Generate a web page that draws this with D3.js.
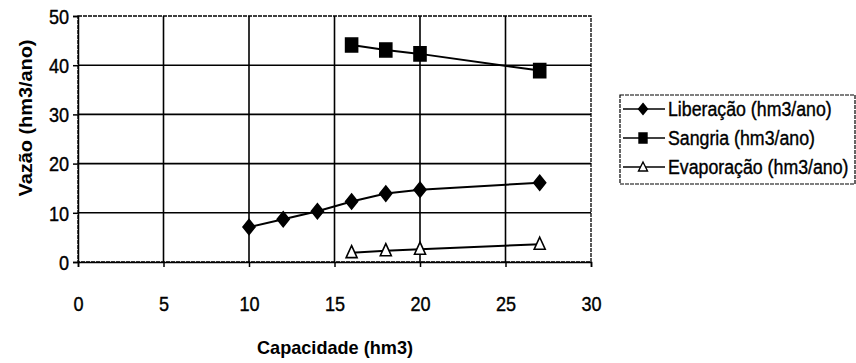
<!DOCTYPE html>
<html><head><meta charset="utf-8">
<script src="https://cdn.jsdelivr.net/npm/d3@7"></script>
<style>body{margin:0;background:#fff}svg{display:block}text{font-family:"Liberation Sans",Arial,sans-serif;fill:#000}</style>
</head><body><svg id="c" width="856" height="363"></svg>
<script>
const xTicks=[0,5,10,15,20,25,30];
const yTicks=[0,10,20,30,40,50];
const libX=[10,12,14,16,18,20,27];
const libY=[7.1,8.7,10.3,12.3,13.9,14.7,16.1];
const sanX=[16,18,20,27];
const sanY=[44.1,43.1,42.3,38.9];
const evaX=[16,18,20,27];
const evaY=[1.9,2.3,2.6,3.6];
const seriesNames=["Liberação (hm3/ano)","Sangria (hm3/ano)","Evaporação (hm3/ano)"];
const xTitle="Capacidade (hm3)";
const yTitle="Vazão (hm3/ano)";

const svg=d3.select("#c");
const L=78,R=591,T=16,B=262;
const x=d3.scaleLinear().domain([0,30]).range([L,R]);
const y=d3.scaleLinear().domain([0,50]).range([B,T]);

function condense(sel,f){sel.each(function(){const w=this.getComputedTextLength();
 d3.select(this).attr("textLength",w*f).attr("lengthAdjust","spacingAndGlyphs");});}

// grid
svg.append("g").selectAll("line").data(xTicks.slice(1,-1)).join("line")
 .attr("x1",d=>x(d)).attr("x2",d=>x(d)).attr("y1",T).attr("y2",B)
 .attr("stroke","#000").attr("stroke-width",1.6);
svg.append("g").selectAll("line").data(yTicks.slice(1,-1)).join("line")
 .attr("y1",d=>y(d)).attr("y2",d=>y(d)).attr("x1",L).attr("x2",R)
 .attr("stroke","#000").attr("stroke-width",1.6);
// border
svg.append("rect").attr("x",L).attr("y",T).attr("width",R-L).attr("height",B-T)
 .attr("fill","none").attr("stroke","#000").attr("stroke-width",1.3).attr("stroke-dasharray","4,1");

// axes
const xa=svg.append("g").attr("transform",`translate(0,${B})`)
 .call(d3.axisBottom(x).tickValues(xTicks).tickSize(5).tickPadding(29));
const ya=svg.append("g").attr("transform",`translate(${L},0)`)
 .call(d3.axisLeft(y).tickValues(yTicks).tickSize(5).tickPadding(4));
[xa,ya].forEach(a=>{a.select(".domain").attr("stroke","#000").attr("stroke-width",1.5);
 a.selectAll(".tick line").attr("stroke","#000").attr("stroke-width",1.5);
 a.selectAll("text").attr("font-size",21)
  .attr("font-family","Liberation Sans, Arial, sans-serif").attr("fill","#000")
  .attr("stroke","#000").attr("stroke-width",0.4);
 condense(a.selectAll("text"),0.86);});
ya.selectAll("text").attr("dy","0.35em");

// titles
svg.append("text").attr("x",335).attr("y",354).attr("text-anchor","middle")
 .attr("font-size",19).attr("font-weight","bold").attr("textLength",156).attr("lengthAdjust","spacingAndGlyphs").text(xTitle);
svg.append("text").attr("transform","translate(32,118) rotate(-90)").attr("text-anchor","middle")
 .attr("font-size",18).attr("font-weight","bold").attr("textLength",157).attr("lengthAdjust","spacingAndGlyphs").text(yTitle);

// symbols
const diamondSym={draw(ctx,size){const w=6,h=7.5;ctx.moveTo(0,-h);ctx.lineTo(w,0);ctx.lineTo(0,h);ctx.lineTo(-w,0);ctx.closePath();}};
const diamondSmall={draw(ctx,size){const w=4.5,h=5.5;ctx.moveTo(0,-h);ctx.lineTo(w,0);ctx.lineTo(0,h);ctx.lineTo(-w,0);ctx.closePath();}};
const squareSym={draw(ctx,size){ctx.rect(-6,-7,12,14);}};
const squareSmall={draw(ctx,size){ctx.rect(-4,-5,8,10);}};
const triSym={draw(ctx,size){ctx.moveTo(0,-7);ctx.lineTo(5.5,5);ctx.lineTo(-5.5,5);ctx.closePath();}};
const triSmall={draw(ctx,size){ctx.moveTo(0,-5);ctx.lineTo(4.5,4);ctx.lineTo(-4.5,4);ctx.closePath();}};

const line=d3.line().x(d=>x(d[0])).y(d=>y(d[1]));
const series=[
 {xs:libX,ys:libY,sym:diamondSym,ls:diamondSmall,fill:"#000"},
 {xs:sanX,ys:sanY,sym:squareSym,ls:squareSmall,fill:"#000"},
 {xs:evaX,ys:evaY,sym:triSym,ls:triSmall,fill:"#fff"}
];
series.forEach(s=>{
 const pts=s.xs.map((v,i)=>[v,s.ys[i]]);
 svg.append("path").attr("d",line(pts)).attr("fill","none").attr("stroke","#000").attr("stroke-width",2);
 svg.append("g").selectAll("path").data(pts).join("path")
  .attr("transform",d=>`translate(${x(d[0])},${y(d[1])})`)
  .attr("d",d3.symbol(s.sym,64)).attr("fill",s.fill).attr("stroke","#000").attr("stroke-width",1.6);
});

// legend
const lg=svg.append("g");
lg.append("rect").attr("x",620).attr("y",95).attr("width",235).attr("height",89)
 .attr("fill","#fff").attr("stroke","#000").attr("stroke-width",1.2).attr("stroke-dasharray","4,1");
series.forEach((s,i)=>{
 const yy=109+i*29;
 lg.append("line").attr("x1",623).attr("x2",665).attr("y1",yy).attr("y2",yy).attr("stroke","#000").attr("stroke-width",1.5);
 lg.append("path").attr("transform",`translate(643,${yy})`).attr("d",d3.symbol(s.ls,64))
  .attr("fill",s.fill).attr("stroke","#000").attr("stroke-width",1.4);
 lg.append("text").attr("transform",`translate(668,${yy}) scale(0.845,1)`).attr("dy","0.35em").attr("font-size",21)
  .attr("stroke","#000").attr("stroke-width",0.4).text(seriesNames[i]);
});
</script></body></html>
